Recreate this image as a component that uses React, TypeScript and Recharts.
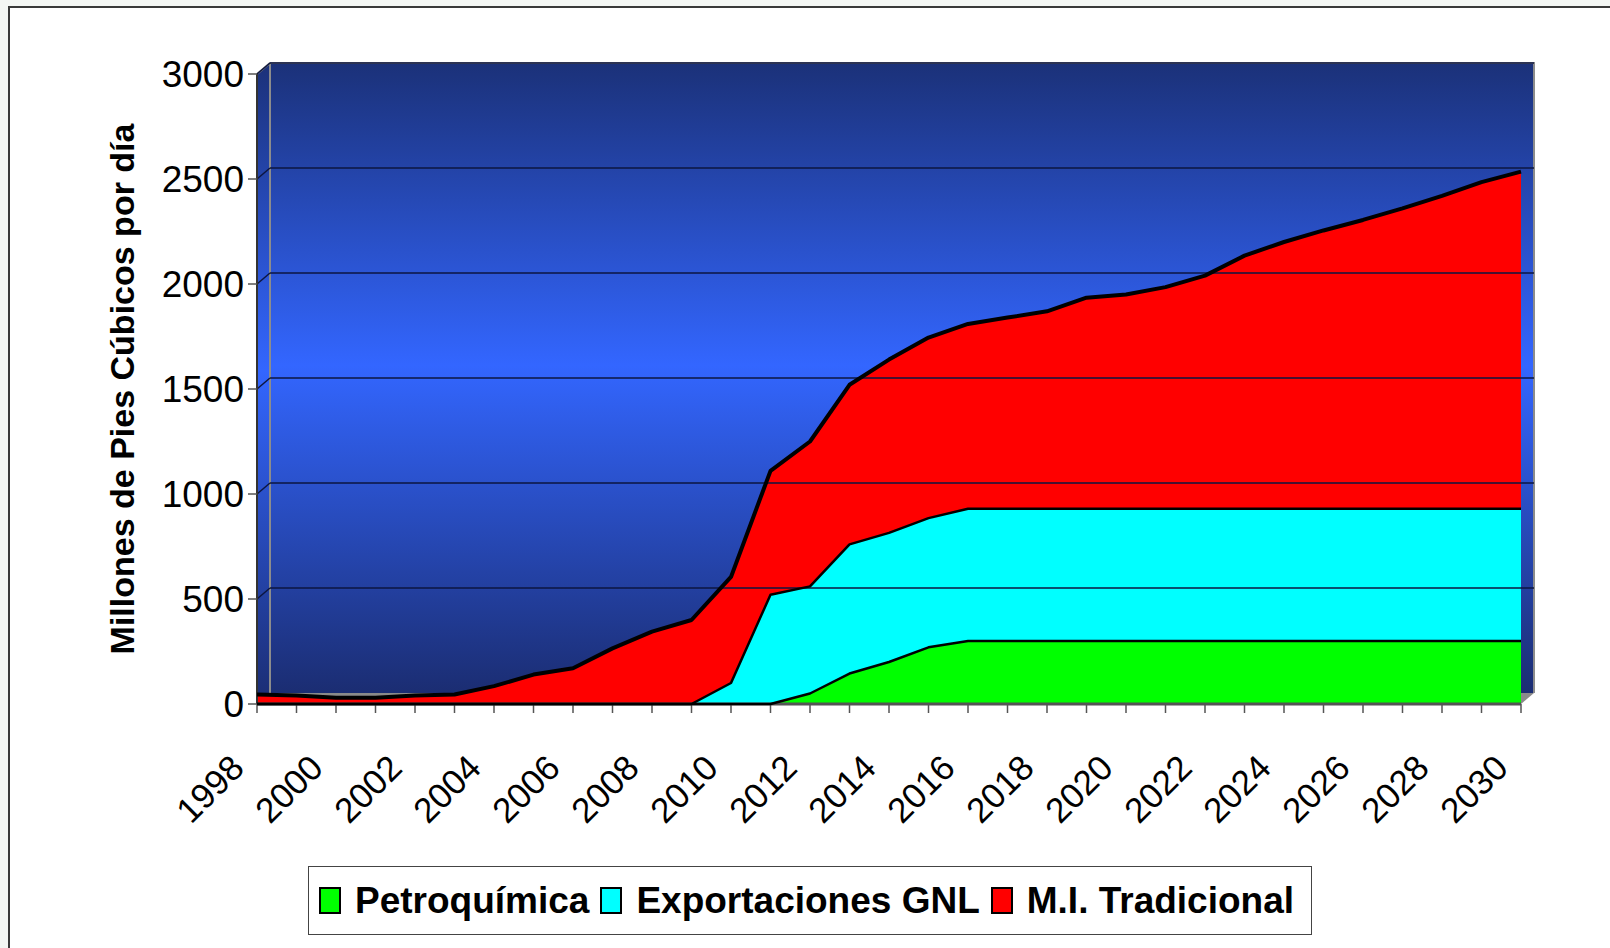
import { ComposedChart, Area, Line, XAxis, YAxis, ReferenceArea, ReferenceLine } from "recharts";

const years = [
  "1998", "1999", "2000", "2001", "2002", "2003", "2004", "2005", "2006", "2007", "2008",
  "2009", "2010", "2011", "2012", "2013", "2014", "2015", "2016", "2017", "2018", "2019",
  "2020", "2021", "2022", "2023", "2024", "2025", "2026", "2027", "2028", "2029", "2030",
];

const petroquimica = [
  0, 0, 0, 0, 0, 0, 0, 0, 0, 0, 0, 0, 0, 0, 50, 145, 200, 270,
  300, 300, 300, 300, 300, 300, 300, 300, 300, 300, 300, 300, 300, 300, 300,
];

const exportacionesGNL = [
  0, 0, 0, 0, 0, 0, 0, 0, 0, 0, 0, 0, 100, 520, 510, 615, 615, 615,
  630, 630, 630, 630, 630, 630, 630, 630, 630, 630, 630, 630, 630, 630, 630,
];

const miTradicional = [
  45, 40, 30, 30, 40, 45, 85, 140, 170, 265, 345, 400, 505, 590, 690, 760, 825, 860,
  880, 910, 940, 1005, 1020, 1055, 1110, 1205, 1270, 1325, 1375, 1430, 1490, 1555, 1605,
];

const yTicks = [0, 500, 1000, 1500, 2000, 2500, 3000];

const series = [
  { key: "petroquimica", name: "Petroquímica", color: "#00ff00" },
  { key: "gnl", name: "Exportaciones GNL", color: "#00ffff" },
  { key: "mi", name: "M.I. Tradicional", color: "#ff0000" },
];

// running totals, used for the black borders between the layers
const data = years.map((year, i) => ({
  year,
  petroquimica: petroquimica[i],
  gnl: exportacionesGNL[i],
  mi: miTradicional[i],
  edgeA: petroquimica[i],
  edgeB: petroquimica[i] + exportacionesGNL[i],
  edgeC: petroquimica[i] + exportacionesGNL[i] + miTradicional[i],
}));

const edges = [
  { key: "edgeA", width: 2.5 },
  { key: "edgeB", width: 2.5 },
  { key: "edgeC", width: 4 },
];

const FONT = "Arial, 'Liberation Sans', sans-serif";
const W = 1610;
const H = 948;
const MARGIN = { top: 74, right: 89, bottom: 154, left: 137 };
const Y_AXIS_W = 120;
const X_AXIS_H = 90;
// depth of the fake 3d wall
const DX = 13;
const DY = 11;

const Wall = (props: any) => {
  const { x, y, width, height } = props;
  return (
    <g>
      <polygon
        points={`${x},${y} ${x + DX},${y - DY} ${x + DX},${y + height - DY} ${x},${y + height}`}
        fill="url(#wallGrad)"
      />
      <rect x={x + DX} y={y - DY} width={width} height={height} fill="url(#wallGrad)" />
      <polygon
        points={`${x},${y + height} ${x + DX},${y + height - DY} ${x + width + DX},${y + height - DY} ${x + width},${y + height}`}
        fill="#8a8a8a"
      />
      <polyline
        points={`${x},${y} ${x + DX},${y - DY} ${x + width + DX},${y - DY} ${x + width + DX},${y + height - DY}`}
        fill="none"
        stroke="#8c8c8c"
        strokeWidth={2}
      />
      <line x1={x + DX} y1={y - DY} x2={x + DX} y2={y + height - DY} stroke="#8c8c8c" strokeWidth={2} />
    </g>
  );
};

const GridLine = (props: any) => {
  const { x1, y1, x2 } = props;
  return (
    <g>
      <line x1={x1} y1={y1} x2={x1 + DX} y2={y1 - DY} stroke="#0d1640" strokeWidth={1.5} />
      <line x1={x1 + DX} y1={y1 - DY} x2={x2 + DX} y2={y1 - DY} stroke="#0d1640" strokeWidth={1.5} />
    </g>
  );
};

const XTick = (props: any) => {
  const { x, y, payload } = props;
  if (Number(payload.value) % 2 !== 0) return null;
  const ax = x - 11;
  const ay = y + 55;
  return (
    <text
      x={ax}
      y={ay}
      transform={`rotate(-45, ${ax}, ${ay})`}
      textAnchor="end"
      fontSize={35}
      fontFamily={FONT}
      fill="#000"
    >
      {payload.value}
    </text>
  );
};

const YTitle = (props: any) => {
  const { viewBox } = props;
  const cx = viewBox.x - 15;
  const cy = viewBox.y + viewBox.height / 2;
  return (
    <text
      x={cx}
      y={cy}
      transform={`rotate(-90, ${cx}, ${cy})`}
      textAnchor="middle"
      dy="0.36em"
      fontSize={34}
      fontWeight="bold"
      fontFamily={FONT}
      fill="#000"
    >
      Millones de Pies Cúbicos por día
    </text>
  );
};

export default function App() {
  return (
    <div style={{ position: "absolute", left: 0, top: 0, width: W, height: H, overflow: "hidden", background: "#f4f7f4" }}>
      <div
        style={{
          position: "absolute",
          left: 8,
          top: 6,
          width: 1620,
          height: 960,
          border: "2px solid #3a3a3a",
          background: "#fff",
        }}
      />
      <div style={{ position: "absolute", left: 0, top: 0 }}>
        <ComposedChart width={W} height={H} data={data} margin={MARGIN}>
          <defs>
            <linearGradient id="wallGrad" x1="0" y1="0" x2="0" y2="1">
              <stop offset="0" stopColor="#1b3179" />
              <stop offset="0.48" stopColor="#3366ff" />
              <stop offset="1" stopColor="#1b2d72" />
            </linearGradient>
          </defs>
          <XAxis
            dataKey="year"
            scale="point"
            interval={0}
            height={X_AXIS_H}
            tickSize={9}
            tickLine={{ stroke: "#555", strokeWidth: 1.5 }}
            axisLine={{ stroke: "#555", strokeWidth: 3 }}
            tick={<XTick />}
          />
          <YAxis
            type="number"
            domain={[0, 3000]}
            ticks={yTicks}
            width={Y_AXIS_W}
            tickSize={9}
            tickMargin={4}
            interval={0}
            tickLine={{ stroke: "#555", strokeWidth: 1.5 }}
            axisLine={{ stroke: "#333", strokeWidth: 2 }}
            tick={{ fontSize: 37, fill: "#000", fontFamily: FONT }}
            label={{ content: <YTitle /> }}
          />
          <ReferenceArea x1="1998" x2="2030" y1={0} y2={3000} shape={<Wall />} />
          {yTicks.slice(1).map((v) => (
            <ReferenceLine key={v} y={v} shape={<GridLine />} />
          ))}
          {series.map((s) => (
            <Area
              key={s.key}
              type="linear"
              dataKey={s.key}
              name={s.name}
              stackId="fill"
              fill={s.color}
              fillOpacity={1}
              stroke="none"
              isAnimationActive={false}
            />
          ))}
        </ComposedChart>
      </div>
      {/* second transparent chart on top: black borders of each layer */}
      <div style={{ position: "absolute", left: 0, top: 0, zIndex: 2, pointerEvents: "none" }}>
        <ComposedChart
          width={W}
          height={H}
          data={data}
          margin={{
            top: MARGIN.top,
            right: MARGIN.right,
            bottom: MARGIN.bottom + X_AXIS_H,
            left: MARGIN.left + Y_AXIS_W,
          }}
        >
          <XAxis dataKey="year" scale="point" hide />
          <YAxis type="number" domain={[0, 3000]} hide />
          {edges.map((e) => (
            <Line
              key={e.key}
              type="linear"
              dataKey={e.key}
              stroke="#000"
              strokeWidth={e.width}
              strokeLinejoin="round"
              dot={false}
              activeDot={false}
              isAnimationActive={false}
            />
          ))}
        </ComposedChart>
      </div>
      <div
        style={{
          position: "absolute",
          left: 308,
          top: 866,
          width: 1004,
          height: 69,
          boxSizing: "border-box",
          border: "1.5px solid #444",
          background: "#fff",
          display: "flex",
          alignItems: "center",
          paddingLeft: 10,
          fontFamily: FONT,
          fontWeight: "bold",
          fontSize: 37,
          color: "#000",
          whiteSpace: "nowrap",
        }}
      >
        {series.map((s) => (
          <div key={s.key} style={{ display: "flex", alignItems: "center", marginRight: 11 }}>
            <div
              style={{
                width: 18,
                height: 23,
                border: "2px solid #000",
                background: s.color,
                marginRight: 14,
              }}
            />
            <span>{s.name}</span>
          </div>
        ))}
      </div>
    </div>
  );
}
